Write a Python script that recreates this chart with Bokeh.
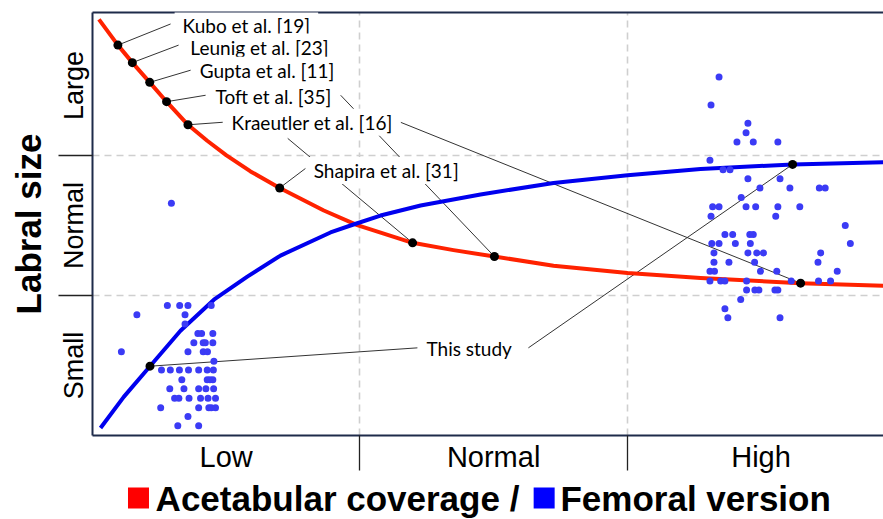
from bokeh.plotting import figure
from bokeh.layouts import column
from bokeh.models import FixedTicker, LinearAxis, Range1d, Label
from bokeh.core.properties import value
from bokeh.embed import file_html
from bokeh.resources import INLINE

# ---------------- data ----------------
x_categories = ["Low", "Normal", "High"]
y_categories = ["Small", "Normal", "Large"]
category_centers = [0.5, 1.5, 2.5]
category_bounds = [1, 2]

# Acetabular coverage curve (red)
coverage_x = [0.024, 0.095, 0.149, 0.214, 0.277, 0.357, 0.429, 0.501, 0.591, 0.700,
              0.865, 0.990, 1.197, 1.350, 1.503, 1.724, 2.001, 2.274, 2.648, 2.96]
coverage_y = [2.972, 2.788, 2.663, 2.522, 2.384, 2.219, 2.105, 2.001, 1.886, 1.768,
              1.607, 1.503, 1.376, 1.324, 1.278, 1.213, 1.160, 1.124, 1.088, 1.070]

# Femoral version curve (blue)
version_x = [0.030, 0.117, 0.215, 0.329, 0.454, 0.579, 0.703, 0.890, 0.976, 1.077,
             1.227, 1.451, 1.724, 2.001, 2.274, 2.618, 2.96]
version_y = [0.054, 0.276, 0.495, 0.748, 0.970, 1.135, 1.285, 1.450, 1.507, 1.571,
             1.643, 1.721, 1.804, 1.858, 1.904, 1.936, 1.951]

# individual patients (blue dots)
patients_x = [0.280, 0.326, 0.357, 0.444, 0.166, 0.346, 0.346, 0.394, 0.408, 0.450,
              0.379, 0.414, 0.422, 0.450, 0.108, 0.357, 0.414, 0.430, 0.454,
              0.258, 0.291, 0.325, 0.359, 0.397, 0.429, 0.452,
              0.334, 0.429, 0.439, 0.450,
              0.289, 0.342, 0.397, 0.424, 0.453,
              0.307, 0.323, 0.361, 0.404, 0.432, 0.460,
              0.255, 0.397, 0.435, 0.444, 0.460,
              0.357, 0.319, 0.397, 0.295,
              2.343, 2.313, 2.451, 2.444, 2.410, 2.471, 2.563, 2.309, 2.358, 2.384,
              2.451, 2.571, 2.496, 2.608, 2.718, 2.740, 2.426,
              2.319, 2.343, 2.444, 2.480, 2.563, 2.645,
              2.313, 2.555, 2.815,
              2.365, 2.394, 2.458, 2.471,
              2.316, 2.343, 2.404, 2.460, 2.834,
              2.324, 2.451, 2.484, 2.509, 2.723,
              2.324, 2.380, 2.476, 2.713,
              2.309, 2.326, 2.498, 2.559, 2.785,
              2.309, 2.349, 2.365, 2.446, 2.613, 2.715, 2.760,
              2.446, 2.477, 2.492, 2.552, 2.563,
              2.424, 2.365, 2.376, 2.571]
patients_y = [0.929, 0.929, 0.929, 0.929, 0.863, 0.863, 0.796, 0.729, 0.729, 0.729,
              0.662, 0.662, 0.662, 0.662, 0.598, 0.598, 0.598, 0.598, 0.531,
              0.467, 0.467, 0.467, 0.467, 0.467, 0.467, 0.467,
              0.399, 0.399, 0.399, 0.399,
              0.333, 0.333, 0.333, 0.333, 0.333,
              0.266, 0.266, 0.266, 0.266, 0.266, 0.266,
              0.199, 0.199, 0.199, 0.199, 0.199,
              0.135, 0.070, 0.070, 1.659,
              2.561, 2.361, 2.230, 2.163, 2.096, 2.096, 2.096, 1.965, 1.898, 1.898,
              1.834, 1.834, 1.767, 1.767, 1.767, 1.767, 1.700,
              1.633, 1.633, 1.633, 1.633, 1.633, 1.633,
              1.566, 1.566, 1.500,
              1.435, 1.435, 1.435, 1.435,
              1.371, 1.371, 1.371, 1.371, 1.371,
              1.304, 1.304, 1.304, 1.304, 1.304,
              1.237, 1.237, 1.237, 1.237,
              1.173, 1.173, 1.173, 1.173, 1.173,
              1.104, 1.104, 1.104, 1.104, 1.104, 1.104, 1.104,
              1.039, 1.039, 1.039, 1.039, 1.039,
              0.972, 0.906, 0.841, 0.841]

# study points (black)
study_point_x = [0.095, 0.149, 0.214, 0.277, 0.357, 0.700, 1.197, 1.503, 2.648, 2.618, 0.215]
study_point_y = [2.788, 2.663, 2.522, 2.384, 2.219, 1.768, 1.376, 1.278, 1.088, 1.936, 0.495]

# study labels (left edge of text, vertical centre)
study_names = ["Kubo et al. [19]", "Leunig et al. [23]", "Gupta et al. [11]",
               "Toft et al. [35]", "Kraeutler et al. [16]", "Shapira et al. [31]",
               "This study"]
label_x = [0.337, 0.366, 0.401, 0.460, 0.520, 0.827, 1.249]
label_y = [2.931, 2.774, 2.609, 2.423, 2.237, 1.893, 0.621]

# leader lines
leader_x0 = [0.095, 0.149, 0.214, 0.277, 0.357, 0.700, 0.730, 0.928, 1.152, 1.215, 1.630]
leader_y0 = [2.788, 2.663, 2.522, 2.384, 2.219, 1.768, 2.122, 2.430, 2.237, 0.626, 0.626]
leader_x1 = [0.292, 0.322, 0.367, 0.423, 0.487, 0.797, 1.197, 1.503, 2.648, 0.215, 2.618]
leader_y1 = [2.939, 2.788, 2.609, 2.430, 2.237, 1.908, 1.376, 1.278, 1.088, 0.495, 1.936]

axis_title_x = ["Acetabular coverage / ", "Femoral version"]
axis_title_colors = ["#ff0000", "#0000ff"]
axis_title_y = "Labral size"

# ---------------- main figure ----------------
NAVY = "#1e2b4a"
PAD = 8
xr = Range1d(0, 2.958)
p = figure(width=883, height=476, x_range=xr, y_range=Range1d(0, 3.021),
           output_backend="svg", toolbar_location=None,
           min_border_left=92, min_border_right=0, min_border_top=12, min_border_bottom=41)
p.outline_line_color = None
p.background_fill_color = "white"
p.border_fill_color = "white"

for g in (p.xgrid[0], p.ygrid[0]):
    g.ticker = FixedTicker(ticks=category_bounds)
    g.grid_line_color = "#cfcfcf"
    g.grid_line_dash = "7 5"
    g.grid_line_width = 1.6

xa = p.xaxis[0]
xa.ticker = FixedTicker(ticks=category_centers, minor_ticks=category_bounds)
xa.major_label_overrides = {c: n for c, n in zip(category_centers, x_categories)}
ya = p.yaxis[0]
ya.ticker = FixedTicker(ticks=category_centers, minor_ticks=category_bounds)
ya.major_label_overrides = {c: n for c, n in zip(category_centers, y_categories)}
for a in (xa, ya):
    a.axis_line_color = NAVY
    a.axis_line_width = 2
    a.major_tick_line_color = None
    a.major_tick_in = 0
    a.major_tick_out = 0
    a.minor_tick_in = 0
    a.minor_tick_line_color = "#222222"
    a.minor_tick_line_width = 1.3
    a.major_label_text_color = "black"
    a.major_label_text_font = "Liberation Sans"
xa.minor_tick_out = 35
xa.major_label_text_font_size = "29px"
xa.major_label_standoff = -30
ya.minor_tick_out = 34
ya.major_label_text_font_size = "27px"
ya.major_label_orientation = "vertical"
ya.major_label_standoff = -31
ya.axis_label = axis_title_y
ya.axis_label_text_font = "Liberation Sans"
ya.axis_label_text_font_style = "bold"
ya.axis_label_text_font_size = "35px"
ya.axis_label_text_color = "black"
ya.axis_label_standoff = 9

top = LinearAxis(ticker=FixedTicker(ticks=[]), axis_line_color=NAVY, axis_line_width=2,
                 major_tick_line_color=None, minor_tick_line_color=None,
                 major_label_text_font_size="0px")
p.add_layout(top, "above")

p.segment(leader_x0, leader_y0, leader_x1, leader_y1, line_color="#333333", line_width=1)
p.line(coverage_x, coverage_y, line_color="#ff2200", line_width=4, line_join="round")
p.line(version_x, version_y, line_color="#0000ee", line_width=4, line_join="round")
p.scatter(patients_x, patients_y, size=7, fill_color="#3b3bf5", line_color=None)
p.scatter(study_point_x, study_point_y, size=9, fill_color="black", line_color=None)

for name, lx, ly in zip(study_names, label_x, label_y):
    p.add_layout(Label(x=lx, y=ly, x_offset=-PAD, text=name, text_font="Lato",
                       text_font_size="19px", text_baseline="middle", text_align="left",
                       text_color="black", background_fill_color="white",
                       padding=dict(left=PAD, right=PAD, top=2, bottom=2)))

# ---------------- title row (x-axis title with coloured squares) ----------------
q = figure(width=883, height=43, x_range=xr, y_range=Range1d(0, 1),
           output_backend="svg", toolbar_location=None,
           x_axis_location=None, y_axis_location=None,
           min_border_left=92, min_border_right=0, min_border_top=0, min_border_bottom=0)
q.outline_line_color = None
q.xgrid.visible = False
q.ygrid.visible = False
square_x = [0.172, 1.689]
title_x = [0.236, 1.750]
q.scatter(square_x, [0.50, 0.50], marker="square", size=21,
          fill_color=axis_title_colors, line_color=None)
q.text(title_x, [0.49, 0.49], text=axis_title_x, text_font=value("Liberation Sans"),
       text_font_style="bold", text_font_size="35px", text_color="black",
       text_baseline="alphabetic")

layout = column(p, q, spacing=0)
open("out.html", "w").write(file_html(layout, INLINE))
